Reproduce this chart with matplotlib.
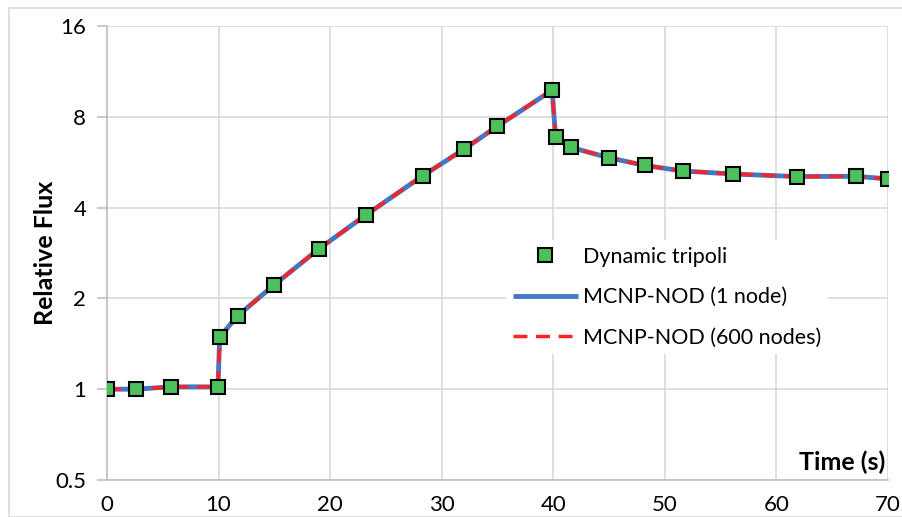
import numpy as np
import matplotlib.pyplot as plt
from matplotlib.patches import Rectangle
from matplotlib.ticker import FixedLocator, FixedFormatter, NullLocator

# data
time = [0, 2.6, 5.7, 9.95, 10.1, 11.7, 15.0, 19.0, 23.2, 28.3, 32.0, 35.0,
        39.9, 40.2, 41.6, 45.0, 48.2, 51.6, 56.1, 61.8, 67.1, 70.0]
flux = [1.0, 1.0, 1.018, 1.018, 1.49, 1.75, 2.22, 2.92, 3.78, 5.10, 6.25, 7.45,
        9.80, 6.86, 6.33, 5.85, 5.52, 5.29, 5.17, 5.07, 5.08, 4.98]
# MCNP-NOD curves follow the tripoli points
nod1_t = time
nod1_f = flux
nod600_t = time
nod600_f = flux

y_ticks = [0.5, 1, 2, 4, 8, 16]
y_labels = ["0.5", "1", "2", "4", "8", "16"]
x_ticks = [0, 10, 20, 30, 40, 50, 60, 70]

plt.rcParams['font.family'] = ['Lato', 'DejaVu Sans']

fig = plt.figure(figsize=(9.03, 5.17), dpi=100)
ax = fig.add_axes([107/903, 1 - 480/517, (888 - 107)/903, (480 - 26)/517])

# light outer chart border
fig.patches.append(Rectangle((9/903, 0), 1, 1 - 8/517, transform=fig.transFigure,
                             fill=False, edgecolor='#d9d9d9', linewidth=1.2))

ax.plot(nod1_t, nod1_f, color='#4477c4', linewidth=3.5, solid_capstyle='butt',
        label='MCNP-NOD (1 node)', zorder=3)
ax.plot(nod600_t, nod600_f, color='#ff2222', linewidth=2.5, dashes=(4, 2.5),
        label='MCNP-NOD (600 nodes)', zorder=4)
ax.plot(time, flux, linestyle='none', marker='s', markersize=10,
        markerfacecolor='#4cc15a', markeredgecolor='black', markeredgewidth=1.5,
        label='Dynamic tripoli', zorder=5)

ax.set_yscale('log', base=2)
ax.set_ylim(0.5, 16)
ax.set_xlim(0, 70)
ax.yaxis.set_major_locator(FixedLocator(y_ticks))
ax.yaxis.set_major_formatter(FixedFormatter(y_labels))
ax.yaxis.set_minor_locator(NullLocator())
ax.set_xticks(x_ticks)

ax.grid(True, color='#d9d9d9', linewidth=1.2, zorder=0)
ax.set_axisbelow(True)
for side in ['top', 'right']:
    ax.spines[side].set_visible(False)
for side in ['left', 'bottom']:
    ax.spines[side].set_color('#bfbfbf')
    ax.spines[side].set_linewidth(1.2)
ax.tick_params(axis='y', length=7, color='#bfbfbf', width=1.2, labelsize=16, pad=8)
ax.tick_params(axis='x', length=0, labelsize=16, pad=11)

ax.set_ylabel('Relative Flux', fontsize=18, fontweight='bold', labelpad=-1)
ax.text(0.997, 0.012, 'Time (s)', transform=ax.transAxes, ha='right', va='bottom',
        fontsize=18, fontweight='bold')

handles, labels = ax.get_legend_handles_labels()
order = [2, 0, 1]
leg = ax.legend([handles[i] for i in order], [labels[i] for i in order],
                loc='center left', bbox_to_anchor=(0.5115, 0.403), frameon=True,
                fontsize=15.5, handlelength=3.0, labelspacing=0.95,
                handletextpad=0.25, borderpad=0.3, borderaxespad=0)
leg.get_frame().set_edgecolor('none')
leg.get_frame().set_facecolor('white')
leg.get_frame().set_alpha(1)

fig.savefig('out.png', dpi=100)
